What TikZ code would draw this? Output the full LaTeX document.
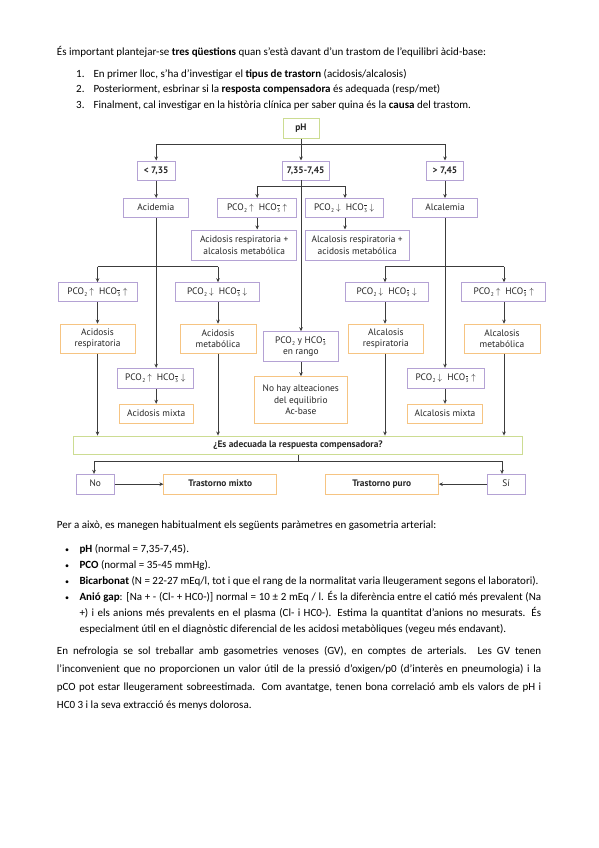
\documentclass[tikz,border=0pt]{standalone}
\usepackage{fontspec}
\setmainfont{Carlito}
\newfontfamily\ff{PT Sans}
\usetikzlibrary{arrows.meta}
\definecolor{pur}{RGB}{180,162,212}
\definecolor{org}{RGB}{246,196,130}
\definecolor{grn}{RGB}{204,220,146}
\definecolor{ln}{RGB}{60,60,60}
\newcommand\smallfont{\fontsize{5.5}{5.5}\selectfont}
\newcommand\hcoq{HCO\kern.4pt\rlap{\raisebox{4.6pt}{\rule{2.6pt}{0.55pt}}}\raisebox{-1.6pt}{\smallfont 3}\kern.6pt}
\newcommand\pco{PCO\kern.4pt\raisebox{-1.6pt}{\smallfont 2}}
\newcommand\up{\kern2pt$\uparrow$}
\newcommand\dn{\kern2pt$\downarrow$}
\tikzset{
  box/.style={draw, line width=1pt, fill=white, inner sep=1pt, align=center,
    font=\ff\fontsize{9.4}{11.5}\selectfont, text=black!85},
  sl/.style={text height=7pt, text depth=2pt},
  pbox/.style={box, draw=pur},
  obox/.style={box, draw=org},
  gbox/.style={box, draw=grn},
  conn/.style={draw=ln, line width=0.7pt},
  arr/.style={conn, -{Stealth[length=4pt,width=3.6pt]}},
  txt/.style={inner sep=0pt, anchor=base west, font=\fontsize{11}{13}\selectfont},
  bul/.style={inner sep=0pt, anchor=base west, font=\fontsize{8}{10}\selectfont}
}
\begin{document}
\begin{tikzpicture}[x=1pt,y=-1pt]
\useasboundingbox[fill=white] (0,0) rectangle (599,848);

% ---------- top text ----------
\node[txt] (t0) at (56.7,55.5) {És important plantejar-se \textbf{tres qüestions} quan s'està davant d'un trastom de l'equilibri àcid-base:};
\node[txt] (n1) at (76,78) {1.};
\node[txt] (t1) at (93.3,78) {En primer lloc, s'ha d'investigar el \textbf{tipus de trastorn} (acidosis/alcalosis)};
\node[txt] (n2) at (76,93) {2.};
\node[txt] (t2) at (93.3,93) {Posteriorment, esbrinar si la \textbf{resposta compensadora} és adequada (resp/met)};
\node[txt] (n3) at (76,108.5) {3.};
\node[txt] (t3) at (93.3,108.5) {Finalment, cal investigar en la història clínica per saber quina és la \textbf{causa} del trastom.};

% ---------- flowchart ----------
\node[gbox, sl, minimum width=36pt, minimum height=19pt] (ph) at (301,128.5) {\bfseries pH};
\node[pbox, sl, minimum width=37.7pt, minimum height=19pt] (lt) at (156.2,170.5) {\bfseries < 7,35};
\node[pbox, sl, minimum width=47pt, minimum height=19pt] (mid) at (305.5,170.5) {\bfseries 7,35-7,45};
\node[pbox, sl, minimum width=36.6pt, minimum height=19pt] (gt) at (445,170.5) {\bfseries > 7,45};

\node[pbox, sl, minimum width=65pt, minimum height=19pt] (acd) at (155.8,208) {Acidemia};
\node[pbox, sl, minimum width=64.6pt, minimum height=19pt] (alc) at (445,208) {Alcalemia};
\node[pbox, sl, minimum width=79pt, minimum height=19pt] (m1) at (257.2,208) {\pco\up\ \ \hcoq\up};
\node[pbox, sl, minimum width=78.3pt, minimum height=19pt] (m2) at (344.2,208) {\pco\dn\ \ \hcoq\dn};
\node[pbox, minimum width=105pt, minimum height=30pt] (m1r) at (244.2,245) {Acidosis respiratoria +\\alcalosis metabólica};
\node[pbox, minimum width=104.3pt, minimum height=30pt] (m2r) at (357.2,245) {Alcalosis respiratoria +\\acidosis metabólica};

\node[pbox, sl, minimum width=79pt, minimum height=19pt] (a1) at (97.5,292.2) {\pco\up\ \ \hcoq\up};
\node[pbox, sl, minimum width=84.3pt, minimum height=19pt] (a2) at (217.2,292.2) {\pco\dn\ \ \hcoq\dn};
\node[pbox, sl, minimum width=83.3pt, minimum height=19pt] (a3) at (386.7,292.2) {\pco\dn\ \ \hcoq\dn};
\node[pbox, sl, minimum width=84.3pt, minimum height=19pt] (a4) at (503.8,292.2) {\pco\up\ \ \hcoq\up};

\node[obox, minimum width=75pt, minimum height=29pt] (ar) at (97.5,338.7) {Acidosis\\respiratoria};
\node[obox, minimum width=76pt, minimum height=29pt] (am) at (218,338.7) {Acidosis\\metabólica};
\node[obox, minimum width=75pt, minimum height=29pt] (lr) at (385.8,338.7) {Alcalosis\\respiratoria};
\node[obox, minimum width=76pt, minimum height=29pt] (lm) at (502,338.7) {Alcalosis\\metabólica};

\node[pbox, sl, minimum width=76pt, minimum height=20pt] (b1) at (155.3,378.3) {\pco\up\ \ \hcoq\dn};
\node[obox, sl, minimum width=74.3pt, minimum height=19pt] (ax) at (156.2,413.8) {Acidosis mixta};
\node[pbox, sl, minimum width=76.7pt, minimum height=20pt] (b2) at (445.7,378.3) {\pco\dn\ \ \hcoq\up};
\node[obox, sl, minimum width=75.4pt, minimum height=19pt] (lx) at (445,413.8) {Alcalosis mixta};

\node[pbox, minimum width=75pt, minimum height=30pt] (rg) at (300.8,346.7) {\pco\ y \hcoq\\[-1pt]en rango};
\node[obox, minimum width=93pt, minimum height=46.6pt] (na) at (300.8,400) {No hay alteaciones\\del equilibrio\\Ac-base};

\node[gbox, sl, minimum width=449.4pt, minimum height=18.3pt] (q) at (298,445.2) {\bfseries ¿Es adecuada la respuesta compensadora?};
\node[pbox, sl, minimum width=38.3pt, minimum height=19.7pt] (no) at (95.2,484.2) {No};
\node[obox, sl, minimum width=112.7pt, minimum height=19.7pt] (tm) at (220.3,484.2) {\bfseries Trastorno mixto};
\node[obox, sl, minimum width=113.3pt, minimum height=19.7pt] (tp) at (381.7,484.2) {\bfseries Trastorno puro};
\node[pbox, sl, minimum width=37.7pt, minimum height=19.7pt] (si) at (506.2,484.2) {Sí};

% connectors: pH level
\coordinate (hL) at (156.2,144.3);
\coordinate (hR) at (445,144.3);
\draw[conn] (hL) -- (hR);
\draw[arr] (ph.south) -- (ph.south |- mid.north);
\draw[arr] (hL) -- (hL |- lt.north);
\draw[arr] (hR) -- (hR |- gt.north);
\draw[arr] (lt.south) -- (lt.south |- acd.north);
\draw[arr] (gt.south) -- (gt.south |- alc.north);

% middle branch
\coordinate (mc) at (301,180);
\draw[arr] (mc) -- (mc |- rg.north);
\coordinate (m1t) at (257.2,186);
\coordinate (m2t) at (345,186);
\draw[conn] (m1t) -- (m2t);
\draw[arr] (m1t) -- (m1t |- m1.north);
\draw[arr] (m2t) -- (m2t |- m2.north);
\draw[arr] (m1t |- m1.south) -- (m1t |- m1r.north);
\draw[arr] (m2t |- m2.south) -- (m2t |- m2r.north);
\draw[arr] (mc |- rg.south) -- (mc |- na.north);

% acidemia branch
\coordinate (aL) at (97.5,266.7);
\coordinate (aR) at (218,266.7);
\coordinate (ac) at (156.2,266.7);
\draw[conn] (aL) -- (aR);
\draw[arr] (ac |- acd.south) -- (ac |- b1.north);
\draw[arr] (aL) -- (aL |- a1.north);
\draw[arr] (aR) -- (aR |- a2.north);
\draw[arr] (aL |- a1.south) -- (aL |- ar.north);
\draw[arr] (aR |- a2.south) -- (aR |- am.north);
\draw[arr] (ac |- b1.south) -- (ac |- ax.north);

% alcalemia branch
\coordinate (lL) at (385,266.7);
\coordinate (lR) at (504,266.7);
\coordinate (lc) at (445,266.7);
\draw[conn] (lL) -- (lR);
\draw[arr] (lc |- alc.south) -- (lc |- b2.north);
\draw[arr] (lL) -- (lL |- a3.north);
\draw[arr] (lR) -- (lR |- a4.north);
\draw[arr] (lL |- a3.south) -- (lL |- lr.north);
\draw[arr] (lR |- a4.south) -- (lR |- lm.north);
\draw[arr] (lc |- b2.south) -- (lc |- lx.north);

% into question
\draw[arr] (aL |- ar.south) -- (aL |- q.north);
\draw[arr] (aR |- am.south) -- (aR |- q.north);
\draw[arr] (lL |- lr.south) -- (lL |- q.north);
\draw[arr] (lR |- lm.south) -- (lR |- q.north);

% question outputs
\coordinate (qL) at (94,461);
\coordinate (qR) at (502,461);
\draw[conn] (q.south) -- (q.south |- qL);
\draw[conn] (qL) -- (qR);
\draw[arr] (qL) -- (qL |- no.north);
\draw[arr] (qR) -- (qR |- si.north);
\draw[arr] (no.east) -- (tm.west);
\draw[arr] (si.west) -- (tp.east);

% ---------- bottom text ----------
\node[txt] (p0) at (56.7,528.5) {Per a això, es manegen habitualment els següents paràmetres en gasometria arterial:};
\node[bul] (b1a) at (65,552) {•};
\node[txt] (u1) at (79.3,552.5) {\textbf{pH} (normal = 7,35-7,45).};
\node[bul] (b2a) at (65,568) {•};
\node[txt] (u2) at (79.3,568.5) {\textbf{PCO} (normal = 35-45 mmHg).};
\node[bul] (b3a) at (65,584) {•};
\node[txt] (u3) at (79.3,584.5) {\textbf{Bicarbonat} (N = 22-27 mEq/l, tot i que el rang de la normalitat varia lleugerament segons el laboratori).};
\node[bul] (b4a) at (65,600) {•};
\node[txt] (u4) at (79.3,600.5) {\makebox[461.7pt][s]{\textbf{Anió gap}: [Na + - (Cl- + HC0-)] normal = 10 ± 2 mEq / l. És la diferència entre el catió més prevalent (Na}};
\node[txt] (u5) at (79.3,616.5) {\makebox[461.7pt][s]{+) i els anions més prevalents en el plasma (Cl- i HC0-). Estima la quantitat d'anions no mesurats. És}};
\node[txt] (u6) at (79.3,632.5) {especialment útil en el diagnòstic diferencial de les acidosi metabòliques (vegeu més endavant).};

\node[txt] (r1) at (56.7,654.5) {\makebox[484.3pt][s]{En nefrologia se sol treballar amb gasometries venoses (GV), en comptes de arterials. Les GV tenen}};
\node[txt] (r2) at (56.7,672.5) {\makebox[484.3pt][s]{l'inconvenient que no proporcionen un valor útil de la pressió d'oxigen/p0 (d'interès en pneumologia) i la}};
\node[txt] (r3) at (56.7,690.5) {\makebox[484.3pt][s]{pCO pot estar lleugerament sobreestimada. Com avantatge, tenen bona correlació amb els valors de pH i}};
\node[txt] (r4) at (56.7,708.5) {HC0 3 i la seva extracció és menys dolorosa.};
\end{tikzpicture}
\end{document}
